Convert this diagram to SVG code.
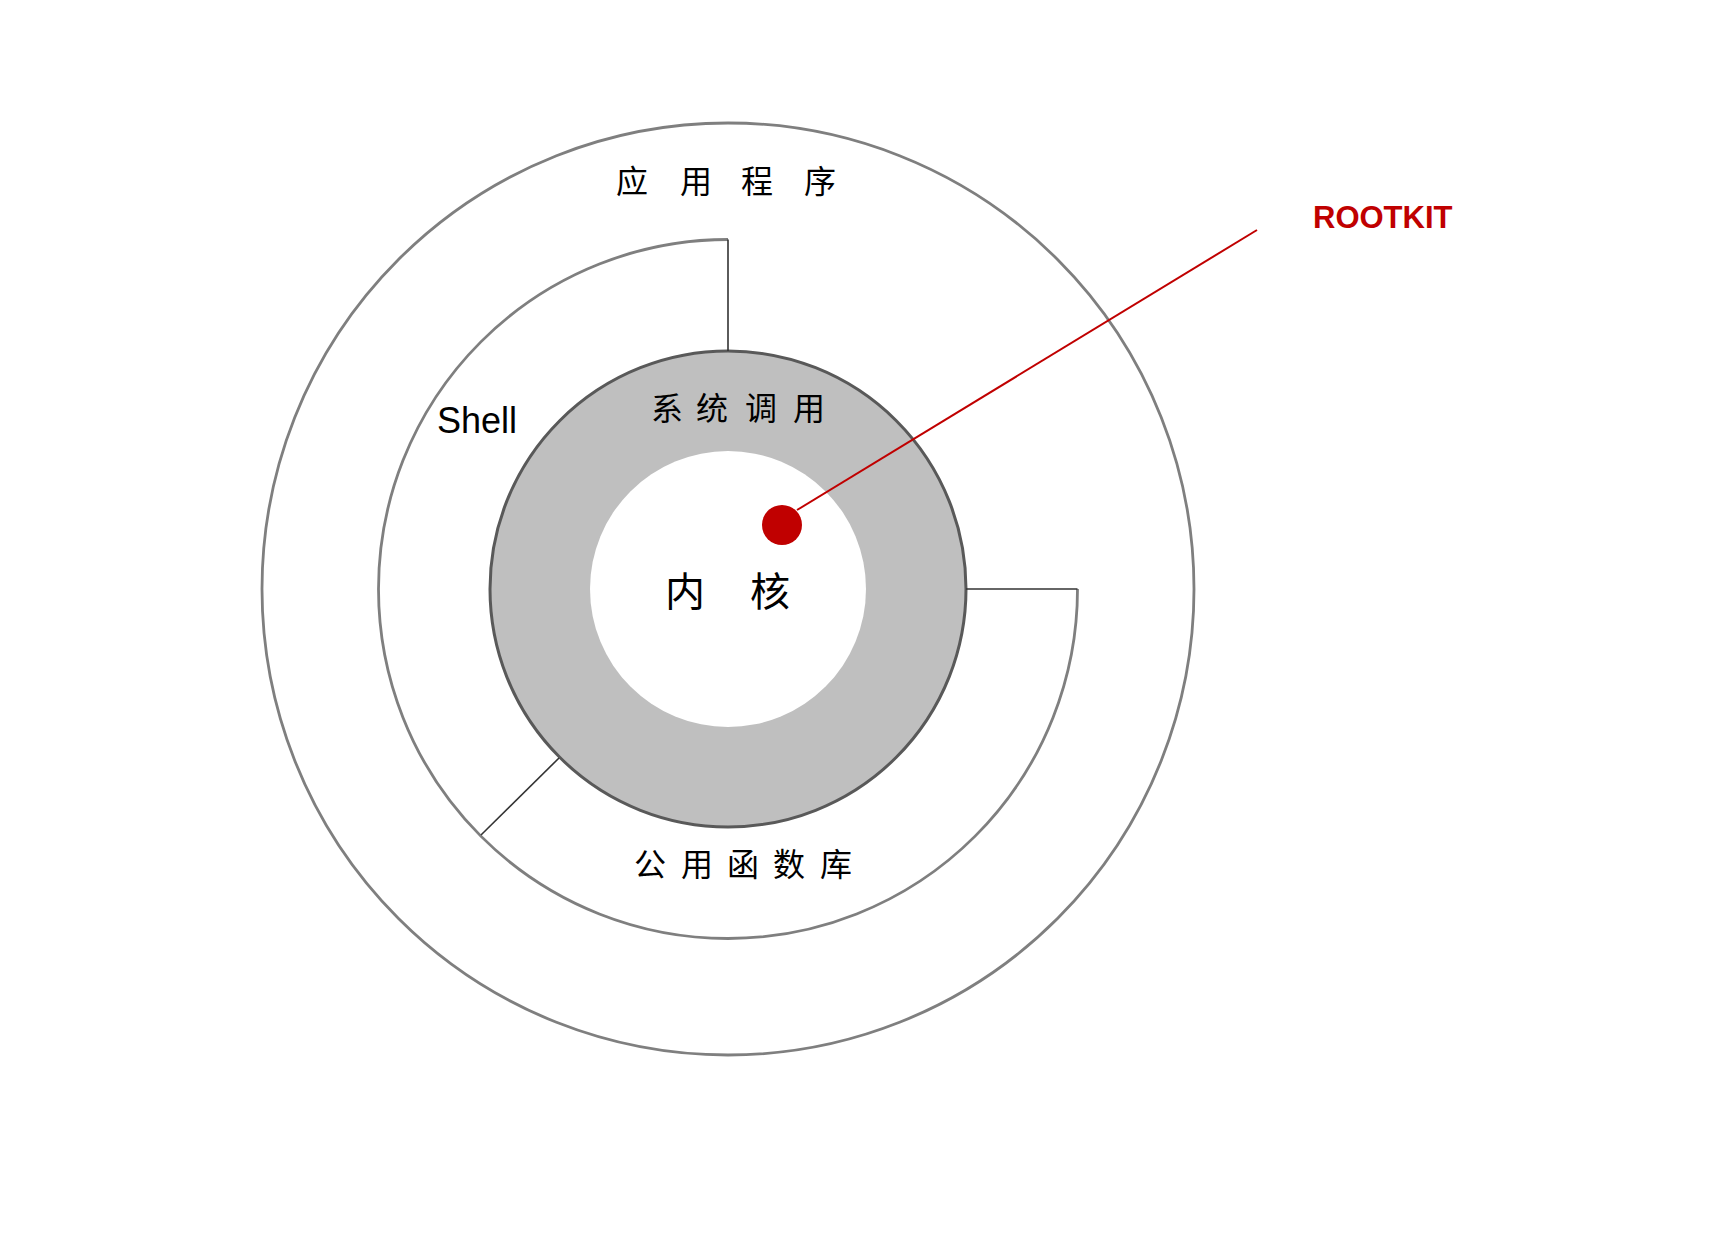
<svg xmlns="http://www.w3.org/2000/svg" width="1732" height="1260" viewBox="0 0 1732 1260">
<style>
.ring{fill:none;stroke:#7f7f7f;stroke-width:2.8}
.div{stroke:#333333;stroke-width:1.6;fill:none}
.cjk{font-family:"Noto Sans CJK SC","Liberation Sans",sans-serif;fill:#000}
.lat{font-family:"Liberation Sans",Arial,sans-serif;fill:#000}
</style>
<rect width="1732" height="1260" fill="#ffffff"/>
<g id="apps">
<circle class="ring" cx="728" cy="589" r="466"/>
<text class="cjk" font-size="32" x="616 680 741 804" y="193">应用程序</text>
</g>
<g id="shell">
<path class="ring" d="M 1077.5 589 A 349.5 349.5 0 1 1 728 239.5"/>
<text class="lat" font-size="36" x="437" y="433">Shell</text>
</g>
<g id="syscall">
<circle cx="728" cy="589" r="238" fill="#bfbfbf" stroke="#595959" stroke-width="3"/>
<text class="cjk" font-size="32" x="651 696 745 793" y="420">系统调用</text>
</g>
<g id="kernel">
<circle cx="728" cy="589" r="138" fill="#ffffff"/>
<text class="cjk" font-size="40" x="665 750" y="606">内核</text>
</g>
<g id="lib">
<text class="cjk" font-size="32" x="634 681 727 773 820" y="876">公用函数库</text>
</g>
<g id="connectors">
<line class="div" x1="728" y1="239.5" x2="728" y2="351"/>
<line class="div" x1="966" y1="589" x2="1077.5" y2="589"/>
<line class="div" x1="559" y1="758" x2="481" y2="835"/>
<line x1="797" y1="510" x2="1257" y2="230" stroke="#c00000" stroke-width="2"/>
</g>
<g id="rootkit">
<circle cx="782" cy="525" r="20" fill="#c00000"/>
<text font-family="Liberation Sans, Arial, sans-serif" font-weight="bold" font-size="31" fill="#c00000" x="1313" y="228">ROOTKIT</text>
</g>
</svg>
